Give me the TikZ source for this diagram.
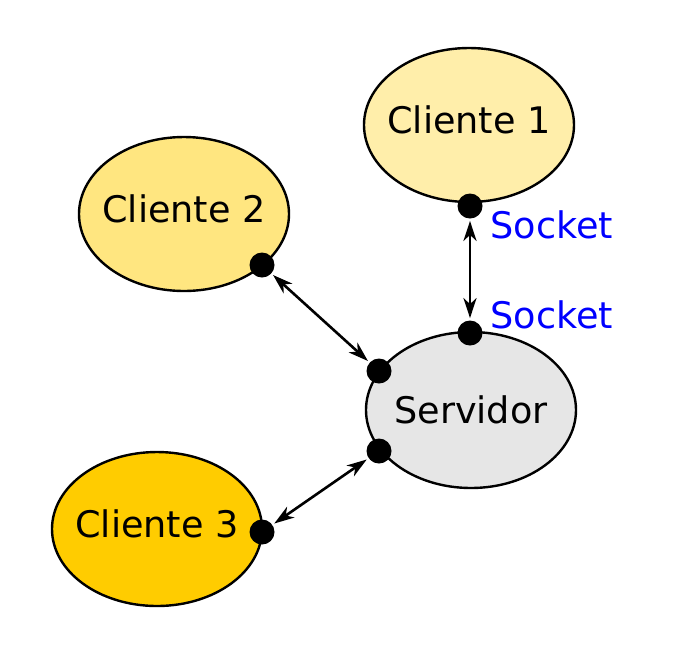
\documentclass[tikz,border=0pt]{standalone}
\usepackage{fontspec}
\setmainfont{DejaVu Sans}
\usetikzlibrary{arrows.meta,shapes.geometric}
\definecolor{cliA}{HTML}{FFEEAA}
\definecolor{cliB}{HTML}{FFE680}
\definecolor{cliC}{HTML}{FFCC00}
\definecolor{srv}{HTML}{E6E6E6}
\tikzset{
    peer/.style n args={2}{ellipse, draw, line width=1.2pt, inner sep=0pt, minimum width=105pt, minimum height=77pt, label={[font=\fontsize{18.3}{20}\selectfont, yshift=#2]center:#1}},
    dot/.style={circle, fill=black, inner sep=0pt, minimum size=12.5pt},
    link/.style={{Stealth[length=10pt,width=6.5pt,inset=3pt]}-{Stealth[length=10pt,width=6.5pt,inset=3pt]}, line width=1.3pt, shorten >=1pt, shorten <=1pt},
    socklabel/.style={text=blue, anchor=base west, inner sep=0pt, font=\fontsize{18.3}{20}\selectfont}
}
\begin{document}
\begin{tikzpicture}[x=0.5pt, y=-0.5pt]
        \useasboundingbox (0,0) rectangle (674,660);
        \node[peer={Cliente 1}{2.5pt}, fill=cliA] (c1) at (469,125) {};
        \node[peer={Cliente 2}{2.5pt}, fill=cliB] (c2) at (184,214) {};
        \node[peer={Cliente 3}{2.5pt}, fill=cliC] (c3) at (157,529) {};
        \node[peer={Servidor}{0pt}, fill=srv, minimum height=78pt] (srv) at (471,410) {};
        % sockets
        \node[dot] (s1) at (470,206) {};
        \node[dot] (s0) at (470,333) {};
        \node[dot] (s2) at (262,265) {};
        \node[dot] (sa) at (379,371) {};
        \node[dot] (sb) at (379,451) {};
        \node[dot] (s3) at (262,532) {};
        \node[socklabel] (l1) at (490,238) {Socket};
        \node[socklabel] (l0) at (490,328) {Socket};
        \draw[link] (s1) -- (s0);
        \draw[link] (s2) -- (sa);
        \draw[link] (s3) -- (sb);
\end{tikzpicture}
\end{document}
